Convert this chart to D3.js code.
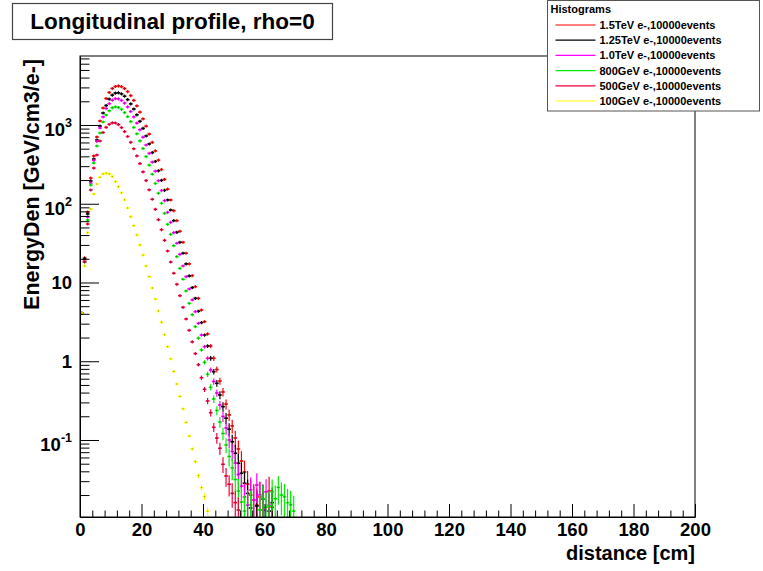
<!DOCTYPE html>
<html>
<head>
<meta charset="utf-8">
<style>
  body { margin: 0; background: #fff; }
  svg { display: block; font-family: "Liberation Sans", Arial, sans-serif; font-weight: bold; }
  .axis path, .axis line { stroke: #000; fill: none; }
</style>
<title>Longitudinal profile, rho=0</title>
</head>
<body>
<script src="https://cdn.jsdelivr.net/npm/d3@7"></script>
<script>

// energy density per 1 cm bin, bin 0 = [0,1) cm ; null = empty bin
var e1500 = [4.1, 20.5, 78.6, 212, 404, 704, 1124, 1644, 2170, 2586, 2908, 3082, 3128, 3064, 2900, 2656, 2362, 2053, 1748, 1458,
             1195, 965, 766, 601, 468, 358, 272, 204, 153, 111.6, 81.6, 60.9, 44.7, 32.4, 23.5, 17.2, 12.2, 8.85, 6.30, 4.47,
             3.18, 2.22, 1.56, 1.09, 0.786, 0.561, 0.407, 0.286, 0.208, 0.151, 0.106, 0.0769, 0.0541, 0.0392, 0.0276, 0.0200, 0.0173, 0.0149, 0.0189, 0.0129,
             null, 0.0225, 0.014];
var e1250 = [4.1, 19.9, 74.1, 194.5, 370, 645, 971, 1420, 1768, 2132, 2397, 2541, 2564, 2483, 2322, 2101, 1853, 1596, 1348, 1114,
             905, 725, 574, 446, 344, 262, 198, 148, 111.6, 83.3, 60.9, 43.4, 32.4, 23.5, 17.2, 12.1, 8.59, 6.30, 4.31, 3.09,
             2.15, 1.56, 1.09, 0.737, 0.525, 0.373, 0.265, 0.189, 0.137, 0.0951, 0.0678, 0.0506, 0.0378, 0.0282, 0.0210, 0.0137, null, 0.0145, null, 0.0178,
             null, 0.0125, 0.016];
var e1000 = [4.1, 18.75, 67.9, 183.4, 355, 620, 916, 1264, 1620, 1865, 2065, 2158, 2145, 2053, 1897, 1697, 1484, 1267, 1057, 869,
             700, 557, 436, 338, 259, 196, 147, 109.3, 77.9, 58.1, 42.9, 31.5, 22.8, 16.2, 11.85, 8.27, 6.00, 4.26, 3.03, 2.15,
             1.53, 1.09, 0.774, 0.553, 0.395, 0.278, 0.199, 0.142, 0.100, 0.0715, 0.0510, 0.0365, 0.0260, 0.0189, 0.0149, 0.0232, 0.0173, 0.0268, 0.0200, 0.0129,
             0.0219, 0.0149];
var e800  = [4.1, 18.2, 62.2, 173, 329, 541, 791, 1092, 1340, 1515, 1649, 1697, 1668, 1578, 1437, 1275, 1105, 932, 773, 628,
             503, 397, 309, 237, 181, 136, 101.3, 75.6, 54.8, 40.9, 29.3, 21.3, 15.1, 11.0, 7.80, 5.44, 3.90, 2.75, 1.96, 1.39,
             0.970, 0.683, 0.467, 0.332, 0.237, 0.169, 0.121, 0.0864, 0.0617, 0.0441, 0.0315, 0.0225, 0.0163, 0.0125, null, 0.015, null, null, 0.013, 0.018,
             0.014, 0.0145, 0.022, 0.018, 0.025, 0.020, 0.019, 0.016, 0.015, 0.0125];
var e500  = [4.1, 18.2, 55.3, 149.5, 284, 416, 626, 803, 935, 1021, 1066, 1060, 1012, 927, 824, 714, 603, 499, 405, 323,
             254, 197, 150, 114, 85.0, 62.7, 46.8, 34.3, 25.1, 18.2, 13.1, 9.49, 6.80, 4.84, 3.44, 2.47, 1.76, 1.25, 0.904, 0.618,
             0.440, 0.313, 0.222, 0.145, 0.106, 0.0785, 0.0491, 0.0349, 0.0274, 0.0210, 0.0160, 0.0129];
var e100  = [4.1, 16.2, 42.9, 85.8, 133, 178, 217, 239, 244, 239, 221, 191, 165, 138, 112, 88.3, 68.5, 52.6, 40.1, 29.9,
             22.3, 16.2, 11.85, 8.51, 6.17, 4.35, 3.13, 2.17, 1.53, 1.07, 0.741, 0.514, 0.357, 0.248, 0.167, 0.112, 0.0769, 0.0530, 0.0352, 0.0248,
             0.0191, 0.0125];

var legendLabels = ["1.5TeV e-,10000events", "1.25TeV e-,10000events", "1.0TeV e-,10000events",
                    "800GeV e-,10000events", "500GeV e-,10000events", "100GeV e-,10000events"];
// mean weight per entry, sets the size of the error bars (sqrt of sum w^2)
var entryWeight = [0.006, 0.005, 0.0045, 0.004, 0.0025, 0.0002];

var xMajor = [0, 20, 40, 60, 80, 100, 120, 140, 160, 180, 200];
var yMajor = [0.1, 1, 10, 100, 1000];
var yLabels = [["10", "-1"], ["1", ""], ["10", ""], ["10", "2"], ["10", "3"]];

var colors = ["#ff0000", "#000000", "#ff00ff", "#00ee00", "#f0003c", "#ffff00"];
var series = [e1500, e1250, e1000, e800, e500, e100];

var margin = {top: 56, right: 68, bottom: 54, left: 80},
    width = 763 - margin.left - margin.right,
    height = 571 - margin.top - margin.bottom;

var x = d3.scaleLinear().domain([0, 200]).range([0, width]);
var y = d3.scaleLog().domain([0.01052, 7518]).range([height, 0]);

var root = d3.select("body").append("svg")
    .attr("width", 763)
    .attr("height", 571);

var svg = root.append("g")
    .attr("transform", `translate(${margin.left},${margin.top})`);

svg.append("clipPath").attr("id", "frame")
  .append("rect").attr("width", width).attr("height", height);

// data points: horizontal bar over the bin, vertical error bar, dot marker
var plot = svg.append("g").attr("clip-path", "url(#frame)");
series.forEach(function(vals, s) {
    var pts = [];
    vals.forEach(function(v, i) { if (v != null) pts.push({i: i, v: v}); });
    var g = plot.append("g").attr("stroke", colors[s]).attr("stroke-width", 1.6);
    pts.forEach(function(d) {
        var err = Math.sqrt(d.v * entryWeight[s]);
        var yc = y(d.v);
        var yHi = Math.min(y(d.v + err), yc - 1.6);
        var yLo = d.v - err > 0.001 ? Math.max(y(d.v - err), yc + 1.6) : height + 5;
        var xc = x(d.i + 0.5);
        g.append("line").attr("x1", x(d.i) - 0.3).attr("x2", x(d.i + 1) + 0.3).attr("y1", yc).attr("y2", yc);
        g.append("line").attr("x1", xc).attr("x2", xc).attr("y1", yHi).attr("y2", yLo).attr("stroke-width", 1.2);
        g.append("rect").attr("x", xc - 0.5).attr("y", yc - 0.5).attr("width", 1).attr("height", 1)
            .attr("stroke", "none").attr("fill", "#222").attr("fill-opacity", 0.55);
    });
});

// frame
svg.append("rect").attr("width", width).attr("height", height)
    .attr("fill", "none").attr("stroke", "#000");

// x axis
var xMinor = d3.range(0, 201, 4).filter(function(v) { return v % 20 != 0; });
svg.append("g").attr("class", "axis")
    .attr("transform", `translate(0,${height})`)
    .call(d3.axisBottom(x).tickValues(xMajor).tickSizeInner(-13).tickSizeOuter(0).tickPadding(6))
    .call(g => g.selectAll("text").attr("font-size", 18.5).attr("font-family", null).attr("fill", "#000"));
svg.append("g").attr("class", "axis")
    .attr("transform", `translate(0,${height})`)
    .call(d3.axisBottom(x).tickValues(xMinor).tickSizeInner(-6.5).tickSizeOuter(0).tickFormat(""))
    .call(g => g.select(".domain").remove());

svg.append("text")
    .attr("x", width)
    .attr("y", height + 43)
    .attr("text-anchor", "end")
    .attr("font-size", 20)
    .text("distance [cm]");

// y axis (log)
var yMinor = [];
[0.01, 0.1, 1, 10, 100, 1000].forEach(function(dec) {
    for (var k = 2; k <= 9; k++) yMinor.push(dec * k);
});
yMinor = yMinor.filter(function(v) { return v >= y.domain()[0] && v <= y.domain()[1]; });

svg.append("g").attr("class", "axis")
    .call(d3.axisLeft(y).tickValues(yMajor).tickSizeInner(-19).tickSizeOuter(0).tickFormat(""));
svg.append("g").attr("class", "axis")
    .call(d3.axisLeft(y).tickValues(yMinor).tickSizeInner(-9.5).tickSizeOuter(0).tickFormat(""))
    .call(g => g.select(".domain").remove());

yMajor.forEach(function(v, i) {
    var lab = yLabels[i];
    var t = svg.append("text")
        .attr("x", -8)
        .attr("text-anchor", "end")
        .attr("font-size", 18.5);
    if (lab[1] == "") {
        t.attr("y", y(v) + 6.5).text(lab[0]);
    } else {
        t.attr("y", y(v) + 11);
        t.append("tspan").text(lab[0]);
        t.append("tspan").attr("font-size", 12.5).attr("dy", -9).text(lab[1]);
    }
});

svg.append("text")
    .attr("transform", "rotate(-90)")
    .attr("x", -3)
    .attr("y", -41)
    .attr("text-anchor", "end")
    .attr("font-size", 21.5)
    .text("EnergyDen [GeV/cm3/e-]");

// title box
root.append("rect")
    .attr("x", 12.5).attr("y", 3.5).attr("width", 320).attr("height", 36)
    .attr("fill", "#fff").attr("stroke", "#444").attr("stroke-width", 1.2);
root.append("text")
    .attr("x", 172.5).attr("y", 29)
    .attr("text-anchor", "middle")
    .attr("font-size", 22.5)
    .text("Longitudinal profile, rho=0");

// legend
var leg = root.append("g").attr("transform", "translate(547.5,0.5)");
leg.append("rect")
    .attr("width", 212).attr("height", 110.5)
    .attr("fill", "#fff").attr("stroke", "#555");
leg.append("text").attr("x", 3).attr("y", 12).attr("font-size", 11).text("Histograms");
legendLabels.forEach(function(name, i) {
    var yy = 24.5 + i * 15.2;
    leg.append("line").attr("x1", 8).attr("x2", 48).attr("y1", yy).attr("y2", yy)
        .attr("stroke", colors[i]).attr("stroke-width", 1.2);
    leg.append("text").attr("x", 52).attr("y", yy + 4).attr("font-size", 11).text(name);
});

</script>
</body>
</html>
